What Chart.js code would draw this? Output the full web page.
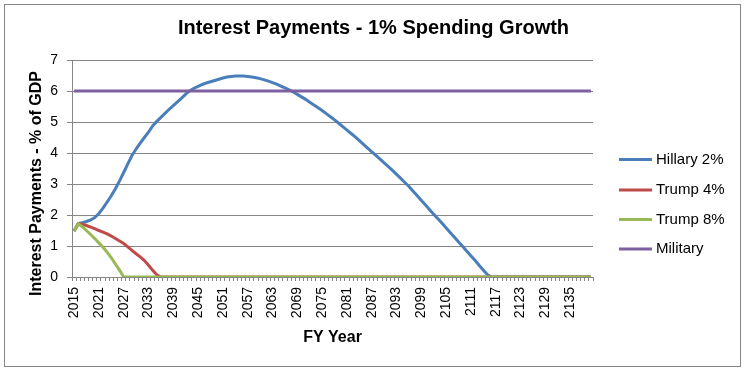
<!DOCTYPE html>
<html><head><meta charset="utf-8">
<script src="https://cdn.jsdelivr.net/npm/chart.js@4/dist/chart.umd.min.js"></script>
<style>html,body{margin:0;padding:0;background:#fff;} #wrap{width:747px;height:374px;}</style>
</head><body><div id="wrap"><canvas id="c" width="747" height="374"></canvas></div>
<script>
const years = [
  '2015','2016','2017','2018','2019','2020','2021','2022','2023','2024',
  '2025','2026','2027','2028','2029','2030','2031','2032','2033','2034',
  '2035','2036','2037','2038','2039','2040','2041','2042','2043','2044',
  '2045','2046','2047','2048','2049','2050','2051','2052','2053','2054',
  '2055','2056','2057','2058','2059','2060','2061','2062','2063','2064',
  '2065','2066','2067','2068','2069','2070','2071','2072','2073','2074',
  '2075','2076','2077','2078','2079','2080','2081','2082','2083','2084',
  '2085','2086','2087','2088','2089','2090','2091','2092','2093','2094',
  '2095','2096','2097','2098','2099','2100','2101','2102','2103','2104',
  '2105','2106','2107','2108','2109','2110','2111','2112','2113','2114',
  '2115','2116','2117','2118','2119','2120','2121','2122','2123','2124',
  '2125','2126','2127','2128','2129','2130','2131','2132','2133','2134',
  '2135','2136','2137','2138','2139','2140'
];

const hillary2 = [
  1.48,1.72,1.75,1.79,1.84,1.92,2.05,2.22,2.42,2.62,
  2.85,3.10,3.37,3.65,3.92,4.13,4.32,4.50,4.67,4.87,
  5.02,5.15,5.28,5.41,5.53,5.65,5.77,5.90,6.01,6.09,
  6.15,6.21,6.26,6.30,6.34,6.38,6.42,6.45,6.47,6.48,
  6.48,6.48,6.47,6.45,6.43,6.40,6.36,6.32,6.27,6.22,
  6.16,6.10,6.04,5.97,5.89,5.81,5.73,5.64,5.55,5.46,
  5.37,5.27,5.17,5.07,4.96,4.85,4.74,4.63,4.52,4.40,
  4.28,4.16,4.04,3.92,3.80,3.68,3.56,3.44,3.31,3.18,
  3.05,2.92,2.77,2.62,2.47,2.32,2.17,2.02,1.88,1.73,
  1.58,1.43,1.28,1.13,0.98,0.83,0.68,0.53,0.37,0.22,
  0.07,0,0,0,0,0,0,0,0,0,
  0,0,0,0,0,0,0,0,0,0,
  0,0,0,0,0,0
];

const trump4 = [
  1.48,1.72,1.70,1.66,1.61,1.56,1.50,1.45,1.39,1.32,
  1.24,1.16,1.08,0.97,0.86,0.75,0.65,0.53,0.38,0.22,
  0.07,0,0,0,0,0,0,0,0,0,
  0,0,0,0,0,0,0,0,0,0,
  0,0,0,0,0,0,0,0,0,0,
  0,0,0,0,0,0,0,0,0,0,
  0,0,0,0,0,0,0,0,0,0,
  0,0,0,0,0,0,0,0,0,0,
  0,0,0,0,0,0,0,0,0,0,
  0,0,0,0,0,0,0,0,0,0,
  0,0,0,0,0,0,0,0,0,0,
  0,0,0,0,0,0,0,0,0,0,
  0,0,0,0,0,0
];

const trump8 = [
  1.48,1.72,1.62,1.50,1.37,1.24,1.10,0.96,0.80,0.62,
  0.42,0.22,0,0,0,0,0,0,0,0,
  0,0,0,0,0,0,0,0,0,0,
  0,0,0,0,0,0,0,0,0,0,
  0,0,0,0,0,0,0,0,0,0,
  0,0,0,0,0,0,0,0,0,0,
  0,0,0,0,0,0,0,0,0,0,
  0,0,0,0,0,0,0,0,0,0,
  0,0,0,0,0,0,0,0,0,0,
  0,0,0,0,0,0,0,0,0,0,
  0,0,0,0,0,0,0,0,0,0,
  0,0,0,0,0,0,0,0,0,0,
  0,0,0,0,0,0
];

const military = [
  6,6,6,6,6,6,6,6,6,6,
  6,6,6,6,6,6,6,6,6,6,
  6,6,6,6,6,6,6,6,6,6,
  6,6,6,6,6,6,6,6,6,6,
  6,6,6,6,6,6,6,6,6,6,
  6,6,6,6,6,6,6,6,6,6,
  6,6,6,6,6,6,6,6,6,6,
  6,6,6,6,6,6,6,6,6,6,
  6,6,6,6,6,6,6,6,6,6,
  6,6,6,6,6,6,6,6,6,6,
  6,6,6,6,6,6,6,6,6,6,
  6,6,6,6,6,6,6,6,6,6,
  6,6,6,6,6,6
];

const seriesNames = ['Hillary 2%', 'Trump 4%', 'Trump 8%', 'Military'];
const seriesColors = ['#4A7EBB', '#BE4B48', '#98B954', '#7D60A0'];
const chartTitle = 'Interest Payments - 1% Spending Growth';
const xTitle = 'FY Year';
const yTitle = 'Interest Payments - % of GDP';

const FONT = "'Liberation Sans', Arial, sans-serif";

const decor = {
  id: 'decor',
  beforeDraw(chart) {
    const ctx = chart.ctx;
    ctx.save();
    ctx.fillStyle = '#ffffff';
    ctx.fillRect(0, 0, chart.width, chart.height);
    ctx.restore();
  },
  afterDraw(chart) {
    const ctx = chart.ctx;
    ctx.save();
    ctx.strokeStyle = '#868686';
    ctx.lineWidth = 1;
    ctx.strokeRect(4.5, 4.5, 736, 362);
    ctx.restore();

    // Y axis title
    ctx.save();
    ctx.translate(36.5, 183.5);
    ctx.rotate(-Math.PI / 2);
    ctx.font = 'bold 16px ' + FONT;
    ctx.fillStyle = '#000';
    ctx.textAlign = 'center';
    ctx.textBaseline = 'middle';
    ctx.fillText(yTitle, 0, 0);
    ctx.restore();

    // Legend
    ctx.save();
    const ys = [159.5, 190, 219.5, 249];
    ctx.font = '15px ' + FONT;
    ctx.textAlign = 'left';
    ctx.textBaseline = 'middle';
    chart.data.datasets.forEach((ds, i) => {
      const y = ys[i];
      ctx.strokeStyle = ds.borderColor;
      ctx.lineWidth = 3;
      ctx.beginPath();
      ctx.moveTo(619, y);
      ctx.lineTo(652, y);
      ctx.stroke();
      ctx.fillStyle = '#000';
      ctx.fillText(ds.label, 656, y);
    });
    ctx.restore();
  }
};

const seriesData = [hillary2, trump4, trump8, military];
const datasets = seriesData.map((d, i) => ({
  label: seriesNames[i],
  data: d,
  yAxisID: 'y',
  borderColor: seriesColors[i],
  backgroundColor: seriesColors[i],
  borderWidth: 3,
  pointRadius: 0,
  fill: false,
  tension: 0,
  order: 4 - i
}));

new Chart(document.getElementById('c'), {
  type: 'line',
  data: { labels: years, datasets },
  options: {
    responsive: false,
    animation: false,
    devicePixelRatio: 1,
    layout: { padding: { left: 0, right: 0, top: 0, bottom: 0 } },
    plugins: {
      legend: { display: false },
      tooltip: { enabled: false },
      title: {
        display: true,
        text: chartTitle,
        color: '#000',
        font: { family: FONT, size: 20, weight: 'bold' },
        padding: { top: 16, bottom: 20 }
      }
    },
    scales: {
      x: {
        offset: true,
        grid: { offset: true, drawOnChartArea: false, drawTicks: true, tickLength: 4, color: '#868686' },
        border: { color: '#868686' },
        ticks: {
          autoSkip: false,
          maxRotation: 90,
          minRotation: 90,
          padding: 6,
          color: '#000',
          font: { family: FONT, size: 14 },
          callback(v, i) { return i % 6 === 0 ? this.getLabelForValue(v) : ''; }
        },
        title: {
          display: true,
          text: xTitle,
          color: '#000',
          font: { family: FONT, size: 16, weight: 'bold' },
          padding: { top: 0, bottom: 27 }
        },
        afterFit(s) { s.height = 97; }
      },
      y: {
        min: 0,
        max: 7,
        ticks: { stepSize: 1, padding: 9, color: '#000', font: { family: FONT, size: 14 } },
        grid: { color: '#868686', tickLength: 5 },
        border: { color: '#868686' },
        afterFit(s) { s.width = 72; }
      },
      legendSpace: {
        type: 'linear',
        position: 'right',
        min: 0,
        max: 7,
        display: true,
        ticks: { display: false },
        grid: { drawOnChartArea: false, drawTicks: false },
        border: { display: false },
        afterFit(s) { s.width = 154; }
      }
    }
  },
  plugins: [decor]
});
</script>
</body></html>
